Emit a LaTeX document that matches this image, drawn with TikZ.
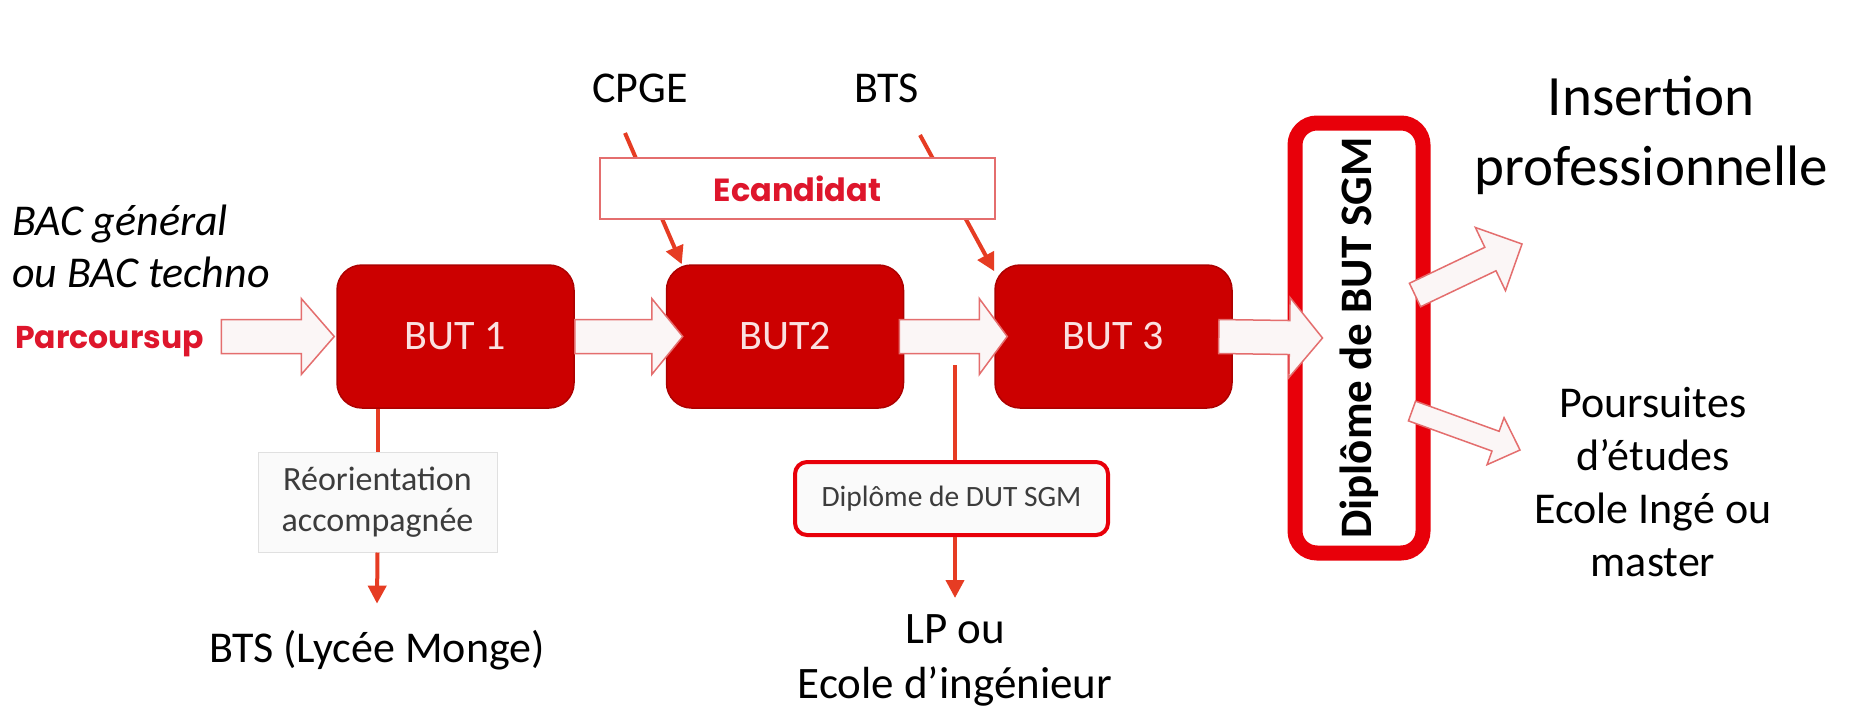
\documentclass[tikz,border=0pt]{standalone}
\usepackage{fontspec}
\setmainfont{Carlito}
\newfontfamily\gothic{Poppins}
\usetikzlibrary{calc,arrows.meta}
\definecolor{butred}{RGB}{204,0,0}
\definecolor{buttext}{RGB}{250,225,225}
\definecolor{arrowfill}{RGB}{251,246,246}
\definecolor{arrowdraw}{RGB}{228,110,110}
\definecolor{linered}{RGB}{230,60,35}
\definecolor{dipred}{RGB}{232,0,10}
\definecolor{txtred}{RGB}{222,22,44}
\definecolor{grytxt}{RGB}{60,60,60}
\newcommand\blockarrow[5]{%
  \coordinate (ba-h) at ($(#2)!#5!(#1)$);
  \draw[blockarr] ($(#1)!#3!90:(#2)$) -- ($(ba-h)!#3!-90:(#1)$) -- ($(ba-h)!#4!-90:(#1)$)
    -- (#2) -- ($(ba-h)!#4!90:(#1)$) -- ($(ba-h)!#3!90:(#1)$) -- ($(#1)!#3!-90:(#2)$) -- cycle;}
\tikzset{
  butbox/.style={rounded corners=25pt, fill=butred, draw=butred!85!black, line width=1.5pt,
    minimum width=237pt, minimum height=143pt, text=buttext, inner sep=0pt,
    font=\fontsize{42}{50}\selectfont},
  blockarr/.style={fill=arrowfill, draw=arrowdraw, line width=1.5pt, line join=miter},
  redline/.style={draw=linered, line width=4pt},
  redarrow/.style={redline, -{Triangle[length=18pt,width=18pt]}},
  plain/.style={inner sep=0pt, text=black},
  body/.style={plain, font=\fontsize{44}{52}\selectfont},
}
\begin{document}
\begin{tikzpicture}[x=1pt,y=-1pt]
\fill[white] (0,0) rectangle (1851,707);
\useasboundingbox (0,0) rectangle (1851,707);

% left texts
\node[body, anchor=west, align=left, font=\fontsize{44}{52}\selectfont\itshape] (bac) at (12,246) {BAC général\\ou BAC techno};
\node[plain, anchor=base west, text=txtred, font=\gothic\bfseries\fontsize{31.5}{38}\selectfont] (parc) at (15,348) {Parcoursup};

% BUT boxes
\node[butbox] (b1) at (455.5,336.5) {BUT 1};
\node[butbox] (b2) at (785,336.5) {BUT2};
\node[butbox] (b3) at (1113.5,336.5) {BUT 3};

% diploma box
\node[draw=dipred, line width=15pt, rounded corners=22pt, fill=white, minimum width=430pt, minimum height=128pt,
  rotate=90, inner sep=0pt, font=\bfseries\fontsize{45}{54}\selectfont] (dip) at (1359,338) {Diplôme de BUT SGM};

% top texts
\node[body, anchor=base] (cpge) at (640,102) {CPGE};
\node[body, anchor=base] (bts) at (887,102) {BTS};
\coordinate (cpgeS) at (625,133);
\coordinate (btsS) at (920,135);
\draw[redarrow] (cpgeS) -- ($(b2.north west)+(16,0)$);
\draw[redarrow] (btsS) -- ($(b3.north west)+(0,7)$);
\node[draw=arrowdraw, line width=1.5pt, fill=white, minimum width=395pt, minimum height=61pt, inner sep=0pt,
  text=txtred, font=\gothic\bfseries\fontsize{32}{38}\selectfont] (ecand) at (797.5,188.5) {Ecandidat};

% right texts
\node[plain, align=center, font=\fontsize{57}{70}\selectfont] (ins) at (1651,135) {Insertion\\professionnelle};
\node[plain, align=center, font=\fontsize{44}{53.3}\selectfont] (pours) at (1653,482) {Poursuites\\d’études\\Ecole Ingé ou\\master};

% reorientation
\node[draw=black!12, line width=1pt, fill=black!2, minimum width=239pt, minimum height=100pt, inner sep=0pt,
  align=center, text=grytxt, font=\fontsize{34}{41}\selectfont] (reo) at (377.5,502) {Réorientation\\accompagnée};
\node[body, anchor=base] (lyc) at (377,662) {BTS (Lycée Monge)};
\draw[redline] (b1.south -| reo.north) -- (reo.north);
\draw[redarrow] (reo.south) -- ($(lyc.north)+(0,-26)$);

% DUT
\node[draw=dipred, line width=4pt, rounded corners=12pt, fill=black!2, minimum width=313pt, minimum height=73pt,
  inner sep=0pt, text=grytxt, font=\fontsize{29.5}{35}\selectfont] (dut) at (951.5,498.5) {Diplôme de DUT SGM};
\node[body, align=center, font=\fontsize{45}{55}\selectfont] (lp) at (955,660) {LP ou\\Ecole d’ingénieur};
\coordinate (d0) at (955,365);
\draw[redline] (d0) -- (d0 |- dut.north);
\draw[redarrow] (d0 |- dut.south) -- ($(lp.north)+(0,-16)$);

% block arrows
\coordinate (pA) at ($(b1.west)+(-115,0)$);
\coordinate (pB) at ($(b1.west)+(-2,0)$);
\blockarrow{pA}{pB}{17pt}{38pt}{33pt}
\coordinate (aA) at (b1.east);
\coordinate (aB) at ($(b2.west)+(17,0)$);
\blockarrow{aA}{aB}{17pt}{38pt}{31pt}
\coordinate (bA) at ($(b2.east)+(-5,0)$);
\coordinate (bB) at ($(b3.west)+(13,0)$);
\blockarrow{bA}{bB}{17pt}{38pt}{28pt}
\coordinate (cA) at ($(b3.east)+(-14,0)$);
\coordinate (cB) at ($(dip.north)+(35,0)$);
\blockarrow{cA}{cB}{17pt}{40pt}{33pt}
\coordinate (uA) at (1415,295);
\coordinate (uB) at (1522,244);
\blockarrow{uA}{uB}{13pt}{35pt}{35pt}
\coordinate (lA) at (1412,411);
\coordinate (lB) at (1520,450);
\blockarrow{lA}{lB}{10.5pt}{25pt}{26pt}
\end{tikzpicture}
\end{document}
